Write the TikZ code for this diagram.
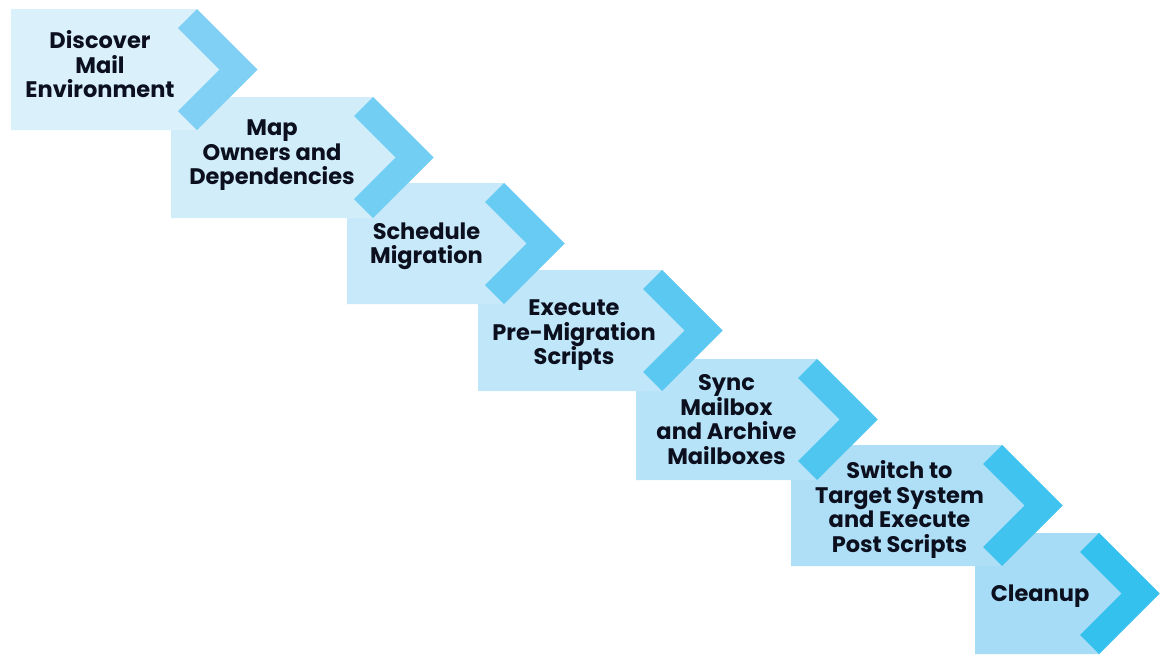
\documentclass[tikz,border=0pt]{standalone}
\usepackage{fontspec}
\setmainfont{Poppins}
\definecolor{boxlight}{HTML}{DAF0FB}
\definecolor{boxdeep}{HTML}{A6DCF6}
\definecolor{chevlight}{HTML}{80D0F5}
\definecolor{chevdeep}{HTML}{35C1EE}
\definecolor{steptext}{HTML}{0B0F1E}

\begin{document}
\begin{tikzpicture}[x=1pt,y=-1pt,
    steplabel/.style={align=center,inner sep=0pt,text=steptext,
      font=\fontsize{22.5}{24.5}\selectfont\bfseries}]
  \useasboundingbox (0,0) rectangle (1164,654);
  % steps drawn last to first, so each chevron lies over the next box
  \foreach \i/\xa/\ya/\xb/\dx/\dy/\txt in {
      7/975/533/1099/3/3/{Cleanup},
      6/791/445/1002/3/4/{Switch to\\Target System\\and Execute\\Post Scripts},
      5/636/359/817/0/0/{Sync\\Mailbox\\and Archive\\Mailboxes},
      4/478/270/662/4/5/{Execute\\Pre-Migration\\Scripts},
      3/347/183/504/1/3/{Schedule\\Migration},
      2/171/97/373/0/-2/{Map\\Owners and\\Dependencies},
      1/11/9/197/-4/-5/{Discover\\Mail\\Environment}}{
    \pgfmathtruncatemacro\pct{100-(\i-1)*100/6}
    \colorlet{boxfill}{boxlight!\pct!boxdeep}
    \colorlet{chevfill}{chevlight!\pct!chevdeep}
    \fill[boxfill] (\xa,\ya) -- (\xb,\ya) -- ++(60.5,60.5) -- (\xb,\ya+121) -- (\xa,\ya+121) -- cycle;
    \fill[chevfill] (\xb,\ya) -- ++(60.5,60.5) -- ++(-60.5,60.5) -- ++(-19,-19) -- ++(41.5,-41.5) -- ++(-41.5,-41.5) -- cycle;
    \node[steplabel] (s\i) at ({(\xa+\xb)/2+\dx},\ya+60.5+\dy) {\txt};
  }
\end{tikzpicture}
\end{document}
